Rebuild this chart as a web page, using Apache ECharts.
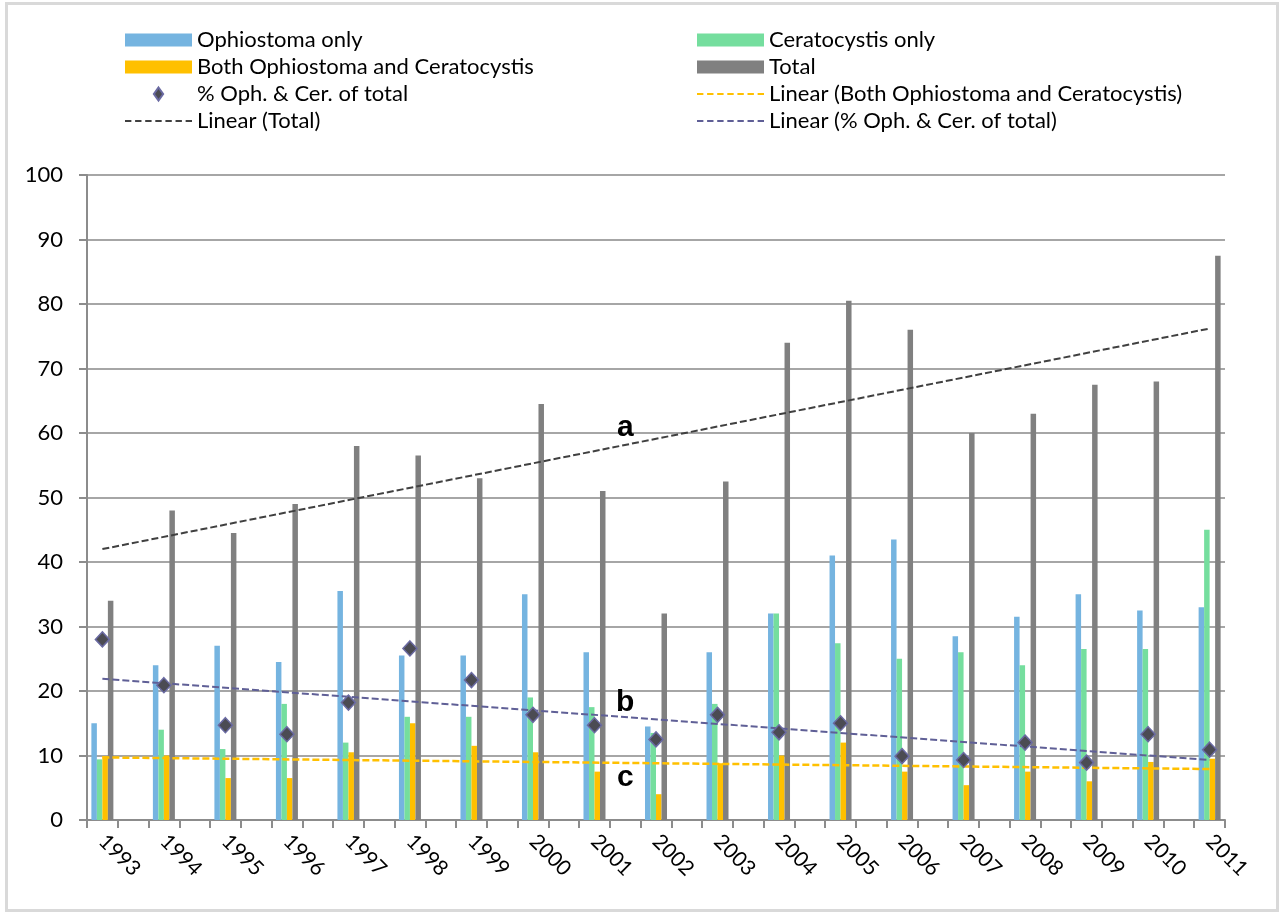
<!DOCTYPE html>
<html>
<head>
<meta charset="utf-8">
<script src="https://cdn.jsdelivr.net/npm/echarts@6/dist/echarts.min.js"></script>
<style>
  body { margin: 0; background: #fff; }
  #frame { position: absolute; left: 5px; top: 2px; width: 1268px; height: 904px; border: 3px solid #d9d9d9; }
  #main { position: absolute; left: 0; top: 0; width: 1284px; height: 914px; }
</style>
</head>
<body>
<div id="frame"></div>
<div id="main"></div>
<script>
var years = ['1993','1994','1995','1996','1997','1998','1999','2000','2001','2002',
             '2003','2004','2005','2006','2007','2008','2009','2010','2011']
var ophiostoma = [15, 24, 27, 24.5, 35.5, 25.5, 25.5, 35, 26, 14.5, 26, 32, 41, 43.5, 28.5, 31.5, 35, 32.5, 33]
var ceratocystis = [9.4, 14, 11, 18, 12, 16, 16, 19, 17.5, 13.5, 18, 32, 27.4, 25, 26, 24, 26.5, 26.5, 45]
var both = [9.9, 10, 6.5, 6.5, 10.5, 15, 11.5, 10.5, 7.5, 4, 8.8, 10, 12, 7.5, 5.4, 7.5, 6, 9, 9.5]
var total = [34, 48, 44.5, 49, 58, 56.5, 53, 64.5, 51, 32, 52.5, 74, 80.5, 76, 60, 63, 67.5, 68, 87.5]
var pctOfTotal = [28, 20.9, 14.7, 13.3, 18.2, 26.6, 21.7, 16.3, 14.7, 12.5, 16.3, 13.6, 15, 9.9, 9.3, 12, 8.9, 13.3, 10.9]
// trend lines: start / end values
var trendBoth = [9.7, 7.9]
var trendTotal = [42, 76.2]
var trendPct = [21.9, 9.3]

// Excel put a blank category between each year
var cats = []
years.forEach(function (y, i) {
    cats.push(y)
    if (i < years.length - 1) cats.push('')
})
var last = cats.length - 1

function spread(arr) {
    var out = []
    arr.forEach(function (v, i) {
        out.push(v)
        if (i < arr.length - 1) out.push(null)
    })
    return out
}
function trend(ends) {
    return [[0, ends[0]], [last, ends[1]]]
}

var font = 'Lato, "Open Sans", sans-serif'
var barW = 5.5
// legend icons
var dashIcon = 'path://M0,0h6v2h-6z M9.5,0h6v2h-6z M19,0h6v2h-6z M28.5,0h6v2h-6z M38,0h6v2h-6z M47.5,0h6v2h-6z M57,0h6v2h-6z'
var diamondIcon = 'path://M5,0L10,7L5,14L0,7Z'

var legendBase = {
    top: 24, orient: 'vertical',
    itemWidth: 67, itemHeight: 13, itemGap: 5, itemTextGap: 10,
    symbolKeepAspect: true,
    textStyle: { fontSize: 22, color: '#000', fontFamily: font, lineHeight: 22 }
}

var myChart = echarts.init(document.getElementById('main'))
var option = {
    animation: false,
    textStyle: { fontFamily: font },
    grid: { left: 87, right: 59, top: 175, bottom: 94 },
    legend: [
        Object.assign({}, legendBase, {
            left: 120,
            data: [
                { name: 'Ophiostoma only', icon: 'rect' },
                { name: 'Both Ophiostoma and Ceratocystis', icon: 'rect' },
                { name: '% Oph. & Cer. of total', icon: diamondIcon },
                { name: 'Linear (Total)', icon: dashIcon }
            ]
        }),
        Object.assign({}, legendBase, {
            left: 692,
            data: [
                { name: 'Ceratocystis only', icon: 'rect' },
                { name: 'Total', icon: 'rect' },
                { name: 'Linear (Both Ophiostoma and Ceratocystis)', icon: dashIcon },
                { name: 'Linear (% Oph. & Cer. of total)', icon: dashIcon }
            ]
        })
    ],
    xAxis: {
        type: 'category',
        data: cats,
        boundaryGap: true,
        axisLine: { lineStyle: { color: '#8c8c8c', width: 2 } },
        axisTick: { show: true, interval: 0, length: 8, lineStyle: { color: '#8c8c8c', width: 2 } },
        axisLabel: { interval: 0, rotate: -45, fontSize: 21, color: '#000', margin: 18, fontFamily: font },
        splitLine: { show: false }
    },
    yAxis: {
        type: 'value',
        min: 0, max: 100, interval: 10,
        axisLine: { show: true, lineStyle: { color: '#8c8c8c', width: 2 } },
        axisTick: { show: true, length: 8, lineStyle: { color: '#8c8c8c', width: 2 } },
        axisLabel: { fontSize: 22, color: '#000', margin: 24, fontFamily: font },
        splitLine: { lineStyle: { color: '#a6a6a6', width: 2 } }
    },
    series: [
        {
            name: 'Ophiostoma only', type: 'bar', barWidth: barW, barGap: '0%',
            itemStyle: { color: '#75b4e0' }, data: spread(ophiostoma)
        },
        {
            name: 'Ceratocystis only', type: 'bar', barWidth: barW, barGap: '0%',
            itemStyle: { color: '#75de9e' }, data: spread(ceratocystis)
        },
        {
            name: 'Both Ophiostoma and Ceratocystis', type: 'bar', barWidth: barW, barGap: '0%',
            itemStyle: { color: '#ffc000' }, data: spread(both)
        },
        {
            name: 'Total', type: 'bar', barWidth: barW, barGap: '0%',
            itemStyle: { color: '#808080' }, data: spread(total)
        },
        {
            name: '% Oph. & Cer. of total', type: 'scatter', symbol: 'diamond', symbolSize: [14, 15],
            itemStyle: { color: '#4b4b53', borderColor: '#6a6aa2', borderWidth: 1.5, opacity: 1 },
            z: 5, data: spread(pctOfTotal)
        },
        {
            name: 'Linear (Both Ophiostoma and Ceratocystis)', type: 'line', symbol: 'none',
            lineStyle: { color: '#ffc000', width: 2.5, type: [7, 3] }, itemStyle: { color: '#ffc000' },
            z: 4, data: trend(trendBoth)
        },
        {
            name: 'Linear (Total)', type: 'line', symbol: 'none',
            lineStyle: { color: '#404040', width: 2, type: [7, 3] }, itemStyle: { color: '#404040' },
            z: 4, data: trend(trendTotal),
            markPoint: {
                symbol: 'rect', symbolSize: 1, itemStyle: { color: 'rgba(0,0,0,0)' },
                label: { show: true, position: 'inside', fontSize: 30, fontWeight: 'bold', color: '#000', fontFamily: 'Liberation Sans, Arial, sans-serif' },
                data: [
                    { coord: [17, 60.8], label: { formatter: 'a' } },
                    { coord: [17, 18.2], label: { formatter: 'b' } },
                    { coord: [17, 6.6], label: { formatter: 'c' } }
                ]
            }
        },
        {
            name: 'Linear (% Oph. & Cer. of total)', type: 'line', symbol: 'none',
            lineStyle: { color: '#5f5f96', width: 2, type: [7, 3] }, itemStyle: { color: '#5f5f96' },
            z: 4, data: trend(trendPct)
        }
    ]
}
myChart.setOption(option)
</script>
</body>
</html>
